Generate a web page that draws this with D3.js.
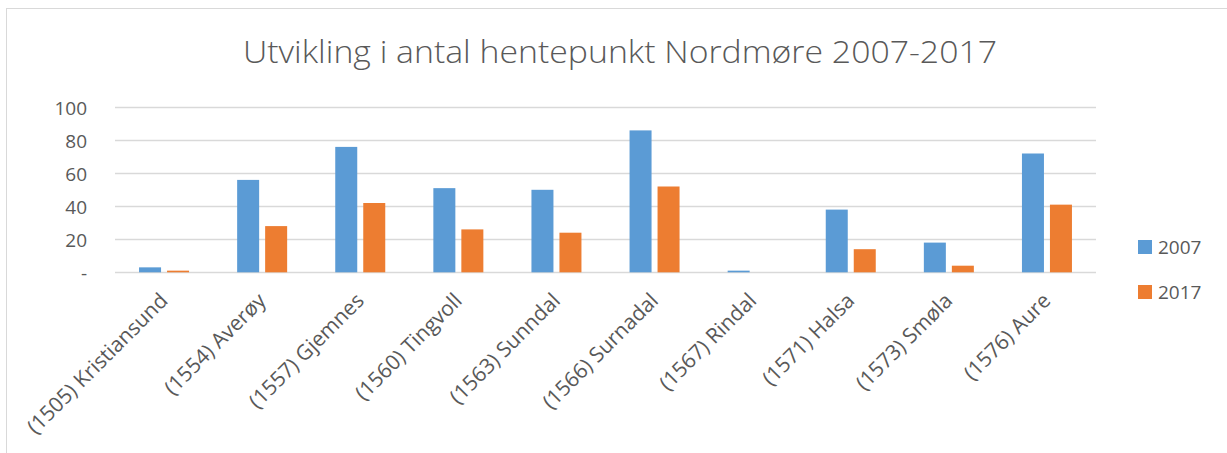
<!DOCTYPE html>
<html><head><meta charset="utf-8">
<script src="https://cdn.jsdelivr.net/npm/d3@7/dist/d3.min.js"></script>
<style>
html,body{margin:0;padding:0;background:#fff;}
svg{display:block;font-family:"Open Sans",sans-serif;}
</style></head>
<body><svg id="c" width="1227" height="453"></svg>
<script>
const title = "Utvikling i antal hentepunkt Nordmøre 2007-2017";
const categories = ["(1505) Kristiansund","(1554) Averøy","(1557) Gjemnes","(1560) Tingvoll","(1563) Sunndal","(1566) Surnadal","(1567) Rindal","(1571) Halsa","(1573) Smøla","(1576) Aure"];
const seriesNames = ["2007","2017"];
const values2007 = [3,56,76,51,50,86,1,38,18,72];
const values2017 = [1,28,42,26,24,52,0,14,4,41];
const yTicks = [0,20,40,60,80,100];
const colors = ["#5B9BD5","#ED7D31"];

const svg = d3.select("#c");
const textColor = "#595959";

// frame
svg.append("rect").attr("x",6.5).attr("y",8.5).attr("width",1240).attr("height",460)
  .attr("fill","#fff").attr("stroke","#d9d9d9").attr("stroke-width",1);

const x0 = d3.scaleBand().domain(categories).range([115,1096]).paddingInner(0).paddingOuter(0);
const y = d3.scaleLinear().domain([0,100]).range([272.3,107.3]);

// gridlines
svg.append("g").selectAll("line").data(yTicks).join("line")
  .attr("x1",115).attr("x2",1096)
  .attr("y1",d=>Math.round(y(d))+0.5).attr("y2",d=>Math.round(y(d))+0.5)
  .attr("stroke","#d9d9d9").attr("stroke-width",1.5);

// y axis
const yAxis = d3.axisLeft(y).tickValues(yTicks).tickSize(0).tickPadding(0)
  .tickFormat(d=> d===0 ? "-" : d3.format("d")(d));
const yg = svg.append("g").attr("transform","translate(87,0)").call(yAxis);
yg.select(".domain").remove();
yg.selectAll("text").attr("fill",textColor).style("font-size","19px").style("font-family","'Open Sans',sans-serif").attr("dy","0.36em");

// bars
const bw = x0.bandwidth();
const barW = bw*22/98.1, gap = bw*6/98.1;
const off = (bw - 2*barW - gap)/2;
const data = categories.map((c,i)=>({c, v:[values2007[i],values2017[i]]}));
const g = svg.append("g");
data.forEach(d=>{
  d.v.forEach((v,j)=>{
    if (v<=0) return;
    g.append("rect")
      .attr("x", x0(d.c)+off + j*(barW+gap))
      .attr("y", y(v))
      .attr("width", barW)
      .attr("height", y(0)-y(v))
      .attr("fill", colors[j]);
  });
});

// x axis labels
const xAxis = d3.axisBottom(x0).tickSize(0).tickPadding(0);
const xg = svg.append("g").attr("transform","translate(0,272)").call(xAxis);
xg.select(".domain").remove();
xg.selectAll("text")
  .attr("fill",textColor).style("font-size","21px").style("font-family","'Open Sans',sans-serif")
  .attr("text-anchor","end")
  .attr("transform","translate(5,30) rotate(-45)")
  .attr("dy","0").attr("y",0).attr("x",0);

// title
svg.append("text").attr("x",620).attr("y",63).attr("text-anchor","middle")
  .attr("fill",textColor).style("font-size","31px").style("font-weight","300")
  .attr("textLength",754).attr("lengthAdjust","spacingAndGlyphs")
  .text(title);

// legend
const lg = svg.append("g");
seriesNames.forEach((s,i)=>{
  lg.append("rect").attr("x",1138).attr("y",240+i*45).attr("width",14).attr("height",14).attr("fill",colors[i]);
  lg.append("text").attr("x",1158).attr("y",254+i*45).attr("fill",textColor)
    .style("font-size","19px").text(s);
});
</script></body></html>
